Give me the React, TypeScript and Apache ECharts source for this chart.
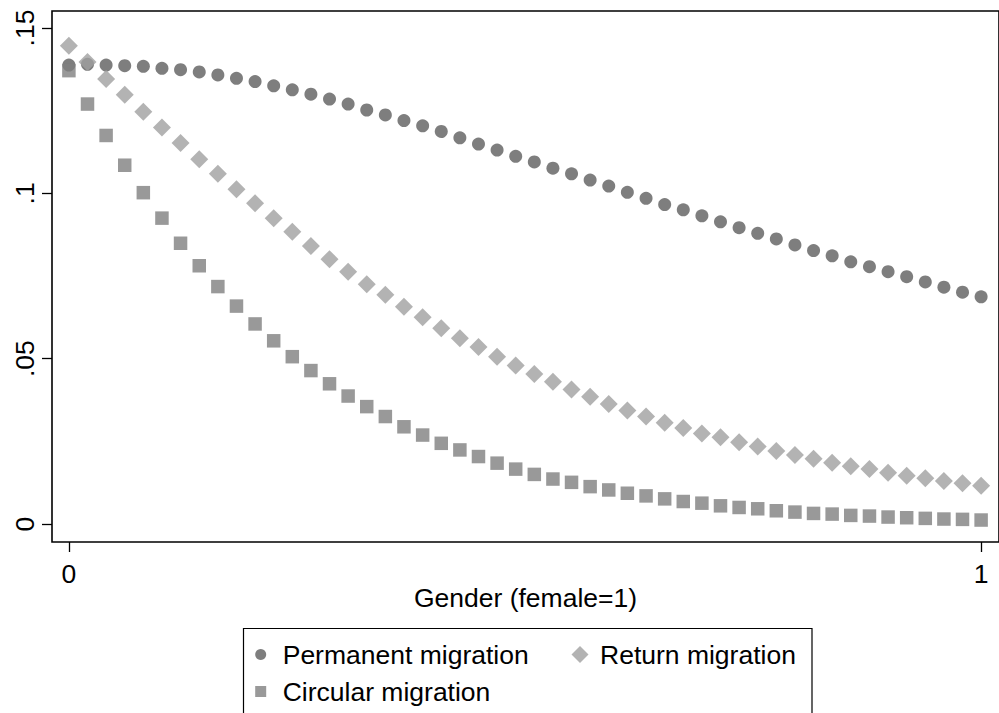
import React, { useEffect, useRef } from "react";
import * as echarts from "echarts";

const gender = [
  0, 0.0204, 0.0408, 0.0612, 0.0816, 0.102, 0.1224, 0.1429, 0.1633, 0.1837,
  0.2041, 0.2245, 0.2449, 0.2653, 0.2857, 0.3061, 0.3265, 0.3469, 0.3673, 0.3878,
  0.4082, 0.4286, 0.449, 0.4694, 0.4898, 0.5102, 0.5306, 0.551, 0.5714, 0.5918,
  0.6122, 0.6327, 0.6531, 0.6735, 0.6939, 0.7143, 0.7347, 0.7551, 0.7755, 0.7959,
  0.8163, 0.8367, 0.8571, 0.8776, 0.898, 0.9184, 0.9388, 0.9592, 0.9796, 1,
];

const permanent = [
  0.1388, 0.139, 0.1388, 0.1386, 0.1384, 0.1378, 0.1374, 0.1367, 0.1358, 0.1348,
  0.1338, 0.1325, 0.1313, 0.13, 0.1285, 0.127, 0.1252, 0.1237, 0.122, 0.1204,
  0.1187, 0.1168, 0.1149, 0.1131, 0.1112, 0.1095, 0.1076, 0.1059, 0.104, 0.1022,
  0.1003, 0.0985, 0.0966, 0.095, 0.0932, 0.0914, 0.0896, 0.0879, 0.0862, 0.0844,
  0.0827, 0.0811, 0.0793, 0.0778, 0.0763, 0.0748, 0.0732, 0.0716, 0.0701, 0.0687,
];

const returnMigration = [
  0.1446, 0.1397, 0.1346, 0.1298, 0.1247, 0.1199, 0.1152, 0.1103, 0.1059, 0.1012,
  0.097, 0.0925, 0.0884, 0.0841, 0.0801, 0.0763, 0.0725, 0.0693, 0.0657, 0.0625,
  0.0592, 0.0562, 0.0535, 0.0506, 0.0479, 0.0454, 0.043, 0.0407, 0.0385, 0.0363,
  0.0343, 0.0325, 0.0306, 0.029, 0.0274, 0.0262, 0.0247, 0.0234, 0.0221, 0.0209,
  0.0197, 0.0185, 0.0175, 0.0166, 0.0155, 0.0146, 0.0138, 0.013, 0.0123, 0.0116,
];

const circular = [
  0.1371, 0.127, 0.1175, 0.1085, 0.1002, 0.0925, 0.0849, 0.0781, 0.0718, 0.0659,
  0.0605, 0.0554, 0.0506, 0.0464, 0.0424, 0.0387, 0.0355, 0.0325, 0.0294, 0.0269,
  0.0244, 0.0224, 0.0204, 0.0184, 0.0166, 0.015, 0.0136, 0.0126, 0.0113, 0.0103,
  0.0093, 0.0085, 0.0076, 0.0068, 0.0063, 0.0055, 0.005, 0.0046, 0.004, 0.0036,
  0.0032, 0.003, 0.0026, 0.0024, 0.0021, 0.0019, 0.0017, 0.0015, 0.0014, 0.0012,
];

const yTicks = [0, 0.05, 0.1, 0.15];
const yTickLabels = ["0", ".05", ".1", ".15"];
const xTicks = [0, 1];
const xTickLabels = ["0", "1"];
const seriesNames = ["Permanent migration", "Return migration", "Circular migration"];
const xTitle = "Gender (female=1)";

const FONT = "'Liberation Sans', Arial, Helvetica, sans-serif";

// legend icons with built-in horizontal padding so the text sits at the right distance
const SQUARE_ICON = "path://M0,0M34,0M0,11M34,11M11.5,0L22.5,0L22.5,11L11.5,11Z";
const DIAMOND_ICON = "path://M0,0M30,0M0,17M30,17M15,0L23.5,8.5L15,17L6.5,8.5Z";

function lookup(v: number, ticks: number[], labels: string[]) {
  for (let i = 0; i < ticks.length; i++) {
    if (Math.abs(ticks[i] - v) < 1e-9) return labels[i];
  }
  return "";
}

export default function App() {
  const ref = useRef<HTMLDivElement>(null);
  useEffect(() => {
    if (!ref.current) return;
    const chart = echarts.init(ref.current, null, { renderer: "svg" });
    const pts = (ys: number[]) => gender.map((g, i) => [g, ys[i]]);
    chart.setOption({
      animation: false,
      backgroundColor: "#ffffff",
      textStyle: { fontFamily: FONT },
      grid: {
        left: 52,
        top: 11,
        right: -6,
        bottom: 171,
        show: true,
        borderColor: "#000",
        borderWidth: 1.6,
        backgroundColor: "transparent",
      },
      xAxis: {
        type: "value",
        min: -0.01852,
        max: 1.0196,
        name: xTitle,
        nameLocation: "middle",
        nameGap: 42,
        nameMoveOverlap: false,
        nameTextStyle: { fontSize: 26.5, color: "#000", fontFamily: FONT },
        axisLine: { show: false, onZero: false },
        splitLine: { show: false },
        axisTick: {
          show: true,
          customValues: xTicks,
          length: 10,
          lineStyle: { color: "#000", width: 1.3 },
        },
        axisLabel: {
          customValues: xTicks,
          formatter: (v: number) => lookup(v, xTicks, xTickLabels),
          margin: 18,
          fontSize: 26.5,
          color: "#000",
          fontFamily: FONT,
        },
      },
      yAxis: {
        type: "value",
        min: -0.005443,
        max: 0.15514,
        axisLine: { show: false, onZero: false },
        splitLine: { show: false },
        axisTick: {
          show: true,
          customValues: yTicks,
          length: 10,
          lineStyle: { color: "#000", width: 1.3 },
        },
        axisLabel: {
          customValues: yTicks,
          formatter: (v: number) => lookup(v, yTicks, yTickLabels),
          rotate: 90,
          margin: 14,
          fontSize: 26.5,
          color: "#000",
          fontFamily: FONT,
        },
      },
      legend: [
        {
          data: [
            { name: seriesNames[0], icon: "circle" },
            { name: seriesNames[2], icon: SQUARE_ICON },
          ],
          orient: "vertical",
          left: 243.7,
          top: 641,
          padding: 0,
          itemWidth: 34,
          itemHeight: 11,
          itemGap: 10,
          selectedMode: false,
          textStyle: { fontSize: 26.5, color: "#000", fontFamily: FONT, padding: 0 },
        },
        {
          data: [{ name: seriesNames[1], icon: DIAMOND_ICON }],
          orient: "horizontal",
          left: 565,
          top: 641,
          padding: 0,
          itemWidth: 30,
          itemHeight: 17,
          selectedMode: false,
          textStyle: { fontSize: 26.5, color: "#000", fontFamily: FONT, padding: 0 },
        },
      ],
      graphic: [
        {
          type: "rect",
          shape: { x: 243.5, y: 628.5, width: 568.5, height: 100 },
          style: { fill: "none", stroke: "#000", lineWidth: 1.2 },
          silent: true,
          z: -1,
        },
      ],
      series: [
        {
          name: seriesNames[0],
          type: "scatter",
          data: pts(permanent),
          symbol: "circle",
          symbolSize: 13,
          itemStyle: { color: "#5e5e5e" },
          silent: true,
        },
        {
          name: seriesNames[1],
          type: "scatter",
          data: pts(returnMigration),
          symbol: "diamond",
          symbolSize: 18,
          itemStyle: { color: "#a0a0a0" },
          silent: true,
        },
        {
          name: seriesNames[2],
          type: "scatter",
          data: pts(circular),
          symbol: "rect",
          symbolSize: 13.5,
          itemStyle: { color: "#808080" },
          silent: true,
        },
      ],
    });
    return () => chart.dispose();
  }, []);
  return (
    <div
      ref={ref}
      style={{ position: "fixed", left: 0, top: 0, width: 999, height: 713, background: "#fff" }}
    />
  );
}
